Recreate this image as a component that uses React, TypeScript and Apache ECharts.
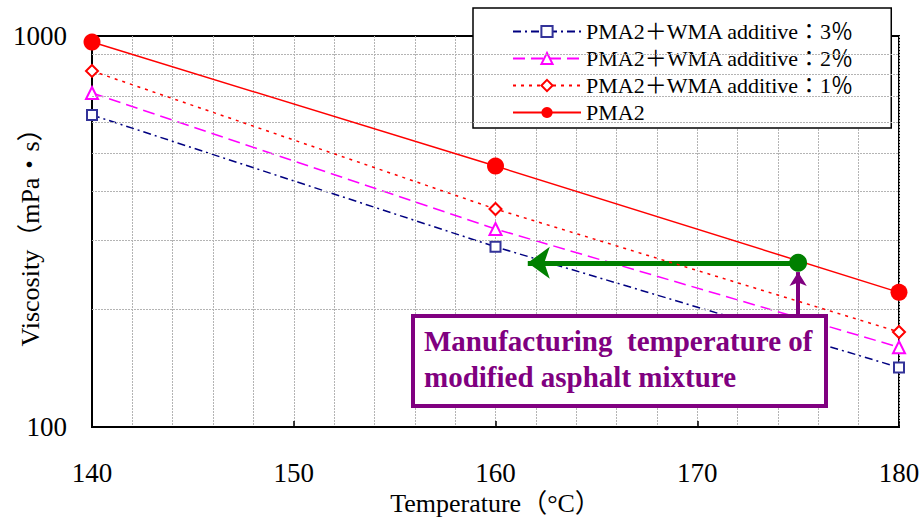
import React, { useEffect, useRef } from "react";
import * as echarts from "echarts";

const temperatures = [140, 160, 180];
const seriesNames = [
  "PMA2＋WMA additive：3％",
  "PMA2＋WMA additive：2％",
  "PMA2＋WMA additive：1％",
  "PMA2",
];
const wma3 = [628, 289, 142];
const wma2 = [715, 321, 160];
const wma1 = [814, 361, 175];
const pma2 = [965, 465, 221];
const mfgPoint = [175, 263];
const greenArrowEndTemp = 161.6;
const purpleArrowBaseVisc = 191;
const purpleArrowTipVisc = 249;
const yMinorGrid = [200, 300, 400, 500, 600, 700, 800, 900];
const annotationLines = ["Manufacturing  temperature of", "modified asphalt mixture"];
const xAxisName = "Temperature（°C）";
const yAxisName = "Viscosity（mPa・s）";

const FONT = "'Times New Roman', 'Liberation Serif', 'Noto Sans CJK JP', serif";
const GRID_COLOR = "#b4b4b4";

export default function App() {
  const ref = useRef<HTMLDivElement>(null);
  useEffect(() => {
    if (!ref.current) return;
    const chart = echarts.init(ref.current, null, { renderer: "svg" });
    const toPts = (arr: number[]) => temperatures.map((t, i) => [t, arr[i]]);
    chart.setOption({
      animation: false,
      backgroundColor: "#fff",
      textStyle: { fontFamily: FONT },
      grid: {
        left: 92,
        right: 24,
        top: 36,
        bottom: 90,
        containLabel: false,
        outerBoundsMode: "none",
        show: true,
        borderColor: "#000",
        borderWidth: 2,
        backgroundColor: "transparent",
      },
      legend: {
        data: seriesNames,
        orient: "vertical",
        left: 473,
        top: 8,
        itemWidth: 68,
        itemHeight: 14,
        itemGap: 0,
        padding: [10, 37, 2, 39],
        backgroundColor: "#fff",
        borderColor: "#000",
        borderWidth: 1.5,
        selectedMode: false,
        textStyle: { fontFamily: FONT, fontSize: 22, color: "#000", lineHeight: 27 },
      },
      xAxis: {
        type: "value",
        min: 140,
        max: 180,
        interval: 10,
        name: xAxisName,
        nameLocation: "middle",
        nameGap: 63,
        nameTextStyle: { fontFamily: FONT, fontSize: 26, color: "#000" },
        axisLine: { show: true, lineStyle: { color: "#000", width: 2 } },
        axisTick: { show: true, inside: true, length: 6, lineStyle: { color: "#000", width: 1.5 } },
        axisLabel: { fontFamily: FONT, fontSize: 27, color: "#000", margin: 32 },
        splitLine: { show: true, lineStyle: { color: GRID_COLOR, width: 1, type: [2, 1] } },
        minorTick: { show: false, splitNumber: 5 },
        minorSplitLine: { show: true, lineStyle: { color: GRID_COLOR, width: 1, type: [2, 1] } },
      },
      yAxis: {
        type: "log",
        logBase: 10,
        min: 100,
        max: 1000,
        axisLine: { show: true, lineStyle: { color: "#000", width: 2 } },
        axisTick: { show: false },
        axisLabel: {
          fontFamily: FONT,
          fontSize: 27,
          color: "#000",
          margin: 25,
          formatter: (v: number) => String(Math.round(v)),
        },
        splitLine: { show: false },
      },
      graphic: [
        {
          type: "text",
          x: 30,
          y: 231,
          rotation: Math.PI / 2,
          style: {
            text: yAxisName,
            fill: "#000",
            font: `26px ${FONT}`,
            align: "center",
            verticalAlign: "middle",
          },
        },
        {
          type: "rect",
          z: 100,
          shape: { x: 413, y: 316, width: 413, height: 90 },
          style: { fill: "#fff", stroke: "#800080", lineWidth: 4 },
        },
        {
          type: "text",
          z: 101,
          left: 424,
          top: 323,
          style: {
            text: annotationLines.join("\n"),
            fill: "#800080",
            font: `bold 29px ${FONT}`,
            lineHeight: 36,
          },
        },
      ],
      series: [
        {
          type: "line",
          name: "grid",
          data: [],
          z: 0,
          silent: true,
          markLine: {
            silent: true,
            symbol: ["none", "none"],
            label: { show: false },
            lineStyle: { color: GRID_COLOR, width: 1, type: [2, 1] },
            data: yMinorGrid.map((v) => ({ yAxis: v })),
          },
        },
        {
          type: "line",
          name: seriesNames[0],
          data: toPts(wma3),
          symbol: "emptyRect",
          symbolSize: 10,
          clip: false,
          lineStyle: { color: "#000080", width: 1.5, type: [8, 4, 2, 4] },
          itemStyle: { color: "#333399", borderColor: "#333399", borderWidth: 1.5 },
          z: 3,
        },
        {
          type: "line",
          name: seriesNames[1],
          data: toPts(wma2),
          symbol: "emptyTriangle",
          symbolSize: 12,
          clip: false,
          lineStyle: { color: "#ff00ff", width: 1.5, type: [12, 6] },
          itemStyle: { color: "#ff00ff", borderColor: "#ff00ff", borderWidth: 1.5 },
          z: 4,
        },
        {
          type: "line",
          name: seriesNames[2],
          data: toPts(wma1),
          symbol: "emptyDiamond",
          symbolSize: 12,
          clip: false,
          lineStyle: { color: "#ff0000", width: 1.5, type: [3, 5] },
          itemStyle: { color: "#ff0000", borderColor: "#ff0000", borderWidth: 1.5 },
          z: 5,
        },
        {
          type: "line",
          name: seriesNames[3],
          data: toPts(pma2),
          symbol: "circle",
          symbolSize: 17,
          clip: false,
          lineStyle: { color: "#ff0000", width: 1.5 },
          itemStyle: { color: "#ff0000" },
          z: 6,
        },
        {
          type: "scatter",
          name: "mfg",
          data: [mfgPoint],
          symbolSize: 18,
          itemStyle: { color: "#008000", opacity: 1 },
          z: 10,
          markLine: {
            silent: true,
            label: { show: false },
            symbol: ["none", "arrow"],
            data: [
              [
                {
                  coord: mfgPoint,
                  symbol: "none",
                  lineStyle: { color: "#008000", width: 5, type: "solid" },
                },
                { coord: [greenArrowEndTemp, mfgPoint[1]], symbol: "arrow", symbolSize: [24, 22] },
              ],
              [
                {
                  coord: [mfgPoint[0], purpleArrowBaseVisc],
                  symbol: "none",
                  lineStyle: { color: "#800080", width: 4, type: "solid" },
                },
                { coord: [mfgPoint[0], purpleArrowTipVisc], symbol: "arrow", symbolSize: [13, 14] },
              ],
            ],
          },
        },
      ],
    });
    return () => chart.dispose();
  }, []);
  return <div ref={ref} style={{ width: 923, height: 517, position: "absolute", left: 0, top: 0 }} />;
}
